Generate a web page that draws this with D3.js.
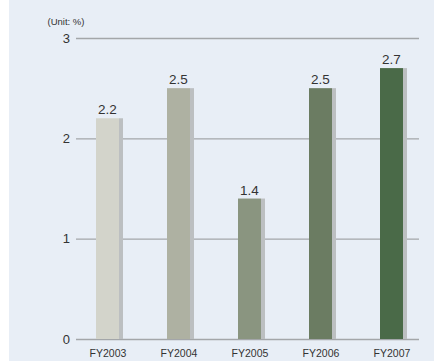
<!DOCTYPE html>
<html>
<head>
<meta charset="utf-8">
<script src="https://cdn.jsdelivr.net/npm/d3@7"></script>
<style>
  body { margin: 0; background: #fff; }
  svg { display: block; }
</style>
</head>
<body>
<svg width="434" height="361"></svg>
<script>
var categories = ["FY2003", "FY2004", "FY2005", "FY2006", "FY2007"];
var values = [2.2, 2.5, 1.4, 2.5, 2.7];
var barColors = ["#d3d4cb", "#aeb1a2", "#8a9580", "#6b7c62", "#4a6a48"];
var yTicks = [0, 1, 2, 3];

var width = 434, height = 361;
var barW = 23, shadowW = 4;

var svg = d3.select("svg");

// panel background
svg.append("rect")
    .attr("x", 9).attr("y", 0)
    .attr("width", width - 9).attr("height", height)
    .attr("fill", "#e8eef6");

var xScale = d3.scalePoint()
    .domain(categories)
    .range([107.5, 391.5]);
var yScale = d3.scaleLinear()
    .domain([0, 3])
    .range([339, 38]);

// y axis with gridlines
var yAxis = d3.axisLeft(yScale)
    .tickValues(yTicks)
    .tickSize(-343)
    .tickPadding(6)
    .tickFormat(d3.format("d"));

var gy = svg.append("g")
    .attr("transform", "translate(76,0)")
    .call(yAxis);
gy.select(".domain").remove();
gy.selectAll(".tick line")
    .attr("stroke", "#a3a6a9")
    .attr("stroke-width", 1.3);
gy.selectAll(".tick text")
    .attr("fill", "#333")
    .style("font-family", "'Liberation Sans', Arial, sans-serif")
    .style("font-size", "13px");

svg.append("text")
    .attr("x", 66).attr("y", 25)
    .attr("text-anchor", "middle")
    .attr("fill", "#333")
    .style("font-family", "'Liberation Sans Narrow', 'Arial Narrow', sans-serif")
    .style("font-size", "9.5px")
    .text("(Unit: %)");

// bars
var bars = svg.selectAll(".bar")
    .data(values)
    .enter().append("g")
    .attr("class", "bar");

bars.append("rect")
    .attr("x", (d, i) => xScale(categories[i]) + barW / 2)
    .attr("y", d => yScale(d))
    .attr("width", shadowW)
    .attr("height", d => yScale(0) - yScale(d))
    .attr("fill", "#bcbfc1");

bars.append("rect")
    .attr("x", (d, i) => xScale(categories[i]) - barW / 2)
    .attr("y", d => yScale(d))
    .attr("width", barW)
    .attr("height", d => yScale(0) - yScale(d))
    .attr("fill", (d, i) => barColors[i]);

bars.append("text")
    .attr("x", (d, i) => xScale(categories[i]))
    .attr("y", d => yScale(d) - 4)
    .attr("text-anchor", "middle")
    .attr("fill", "#333")
    .style("font-family", "'Liberation Sans', Arial, sans-serif")
    .style("font-size", "13.5px")
    .text(d => d3.format(".1f")(d));

// x axis labels
var xAxis = d3.axisBottom(xScale)
    .tickSize(0)
    .tickPadding(11);
var gx = svg.append("g")
    .attr("transform", "translate(0,339)")
    .call(xAxis);
gx.select(".domain").remove();
gx.selectAll(".tick text")
    .attr("fill", "#333")
    .style("font-family", "'Liberation Sans', Arial, sans-serif")
    .style("font-size", "10.5px");
</script>
</body>
</html>
